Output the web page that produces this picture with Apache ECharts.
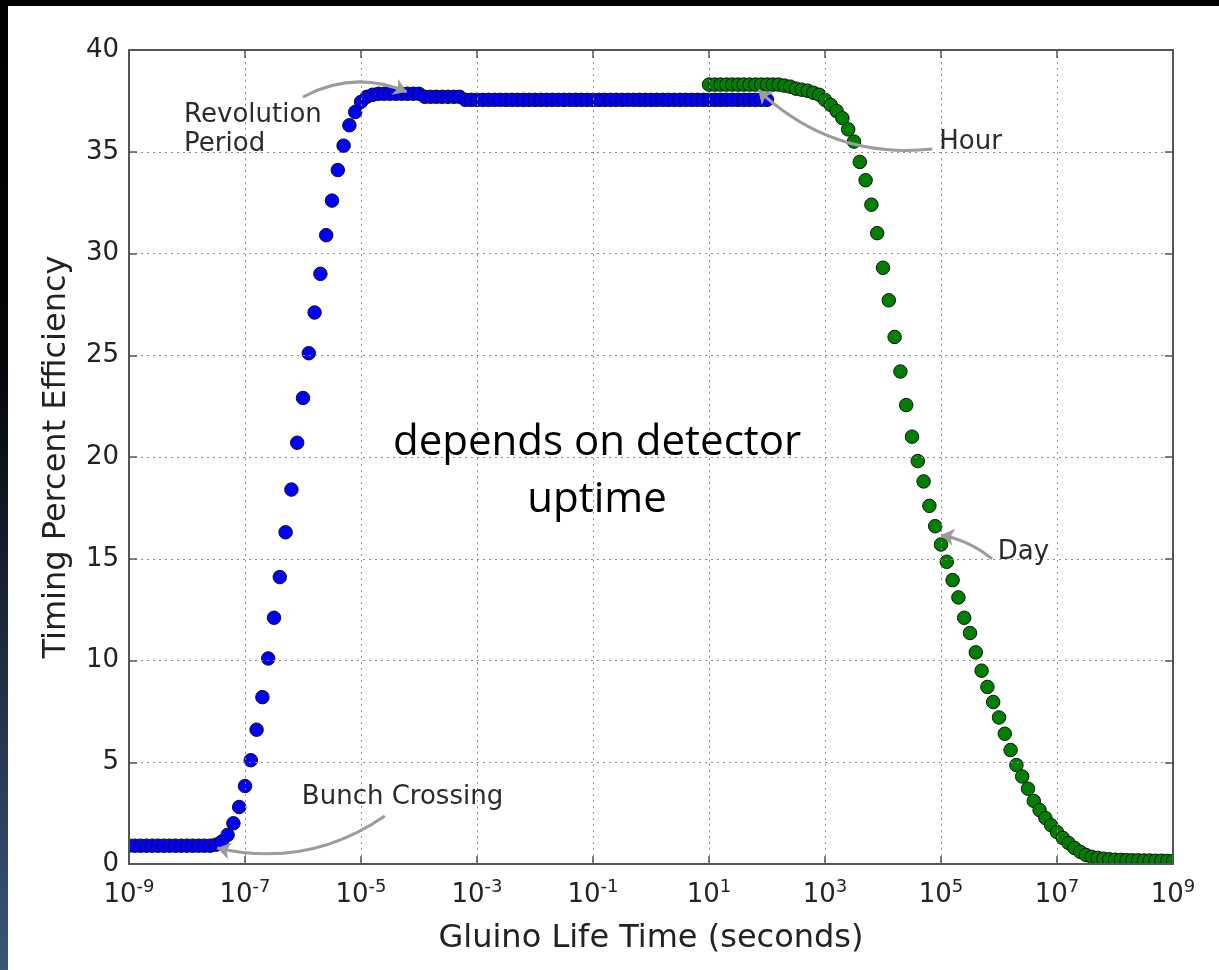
<!DOCTYPE html>
<html>
<head>
<meta charset="utf-8">
<title>Timing Percent Efficiency vs Gluino Life Time</title>
<script src="https://cdn.jsdelivr.net/npm/echarts@6/dist/echarts.min.js"></script>
<style>
  html, body { margin: 0; padding: 0; background: #fff; }
  #topband { position: absolute; left: 0; top: 0; width: 1219px; height: 6px; background: #000; }
  #sidebar { position: absolute; left: 0; top: 0; width: 8px; height: 970px;
             background: linear-gradient(to bottom, #000 0%, #04060a 38%, #3c5578 100%); }
  #chart { position: absolute; left: 0; top: 0; width: 1219px; height: 970px; }
</style>
</head>
<body>
<div id="topband"></div>
<div id="sidebar"></div>
<div id="chart"></div>
<script>
// Lifetimes are sampled evenly in log10(seconds), one point every 0.1 decade.
const expStep = 0.1;

// Short-lifetime scan: 10^-9 s ... 10^2 s (bunch crossing / revolution period limited)
const shortScanStartExp = -9.0;
const shortScanEff = [
  0.9, 0.9, 0.9, 0.9, 0.9, 0.9, 0.9, 0.9, 0.9, 0.9, 0.9, 0.9, 0.9, 0.9, 0.9,
  0.95, 1.1,
  1.43, 2.0, 2.8, 3.83, 5.1, 6.6, 8.2, 10.1, 12.1, 14.1, 16.3, 18.4, 20.7,
  22.9, 25.1, 27.1, 29.0, 30.9, 32.6, 34.1, 35.3, 36.3, 36.95, 37.45, 37.7, 37.8,
  37.85, 37.85, 37.85, 37.85, 37.85, 37.85, 37.85, 37.85,
  37.7, 37.7, 37.7, 37.7, 37.7, 37.7, 37.7,
  37.55, 37.55, 37.55, 37.55, 37.55, 37.55, 37.55, 37.55, 37.55, 37.55,
  37.55, 37.55, 37.55, 37.55, 37.55, 37.55, 37.55, 37.55, 37.55, 37.55,
  37.55, 37.55, 37.55, 37.55, 37.55, 37.55, 37.55, 37.55, 37.55, 37.55,
  37.55, 37.55, 37.55, 37.55, 37.55, 37.55, 37.55, 37.55, 37.55, 37.55,
  37.55, 37.55, 37.55, 37.55, 37.55, 37.55, 37.55, 37.55, 37.55, 37.55,
  37.55, 37.55, 37.55
];

// Long-lifetime scan: 10^1 s ... 10^9 s (detector uptime limited)
const longScanStartExp = 1.0;
const longScanEff = [
  38.3, 38.3, 38.3, 38.3, 38.3, 38.3, 38.3, 38.3, 38.3, 38.3, 38.3, 38.3, 38.3,
  38.25, 38.2, 38.1, 38.05, 38.0, 37.9, 37.8,
  37.55, 37.3, 37.0, 36.65, 36.1, 35.5, 34.5, 33.6, 32.4, 31.0,
  29.3, 27.7, 25.9, 24.2, 22.55, 21.0, 19.8, 18.8, 17.6, 16.6,
  15.7, 14.85, 13.95, 13.1, 12.1, 11.35, 10.4, 9.5, 8.7, 7.96,
  7.2, 6.4, 5.6, 4.86, 4.3, 3.7, 3.1, 2.65, 2.26, 1.9,
  1.57, 1.28, 1.03, 0.79, 0.6, 0.44, 0.35, 0.3, 0.26, 0.23,
  0.21, 0.2, 0.19, 0.18, 0.18, 0.17, 0.17, 0.16, 0.16, 0.15, 0.15
];

// Axis ticks
const xTickExponents = [-9, -7, -5, -3, -1, 1, 3, 5, 7, 9];
const yTickValues = [0, 5, 10, 15, 20, 25, 30, 35, 40];

const pow10 = e => Math.pow(10, e);

function toPoints(startExp, values) {
  return values.map((v, i) => [pow10(+(startExp + i * expStep).toFixed(1)), v]);
}

// Callouts: text anchors and curved arrows, in data coordinates (log10 seconds, percent)
const callouts = [
  { text: 'Revolution\nPeriod', at: [-8.05, 36.1] },
  { text: 'Bunch Crossing', at: [-6.02, 3.3] },
  { text: 'Hour', at: [4.97, 35.45] },
  { text: 'Day', at: [5.98, 15.3] }
];
const arrows = [
  { from: [-6.0, 37.69], to: [-4.21, 37.94], curve: 0.24 },
  { from: [4.85, 35.13], to: [1.85, 38.03], curve: 0.23 },
  { from: [5.88, 14.99], to: [5.0, 16.17], curve: -0.13 },
  { from: [-4.59, 2.36], to: [-7.48, 0.79], curve: 0.22 }
];
const centerNote = { text: 'depends on detector\nuptime', at: [-0.93, 19.3] };

const axisGray = '#555';
const gridStyle = { color: '#8e8e8e', type: [2, 4], width: 1 };
const textGray = '#222';
const markerRadius = 6.75;

// Circle markers, clipped to the plotting area like the axes frame
function markerSeries(name, points, fill, z) {
  return {
    name, type: 'custom', coordinateSystem: 'cartesian2d', clip: true, z,
    encode: { x: 0, y: 1 },
    data: points,
    renderItem: (params, api) => {
      const p = api.coord([api.value(0), api.value(1)]);
      return {
        type: 'circle',
        shape: { cx: p[0], cy: p[1], r: markerRadius },
        style: { fill, stroke: '#111', lineWidth: 1 }
      };
    }
  };
}

const chart = echarts.init(document.getElementById('chart'));

const frameAxis = {
  axisLine: { show: true, onZero: false, lineStyle: { color: axisGray, width: 2 } },
  axisTick: { show: true, inside: true, length: 8, lineStyle: { color: axisGray, width: 1.5 } }
};

const option = {
  animation: false,
  textStyle: { fontFamily: 'DejaVu Sans' },
  grid: { left: 129, right: 46, top: 50, bottom: 106, outerBoundsMode: 'none' },
  xAxis: [
    Object.assign({
      type: 'log', logBase: 10, min: pow10(-9), max: pow10(9), interval: 2,
      position: 'bottom', z: 10,
      name: 'Gluino Life Time (seconds)',
      nameLocation: 'middle', nameGap: 59,
      nameTextStyle: { fontSize: 32, color: textGray, fontFamily: 'DejaVu Sans' },
      minorTick: { show: false },
      axisLabel: {
        margin: 14,
        formatter: v => {
          const e = Math.round(Math.log10(v));
          return xTickExponents.includes(e) ? '{b|10}{s|' + e + '}' : '';
        },
        rich: {
          b: { fontSize: 26, color: textGray, fontFamily: 'DejaVu Sans', lineHeight: 30, verticalAlign: 'bottom' },
          s: { fontSize: 18, color: textGray, fontFamily: 'DejaVu Sans', lineHeight: 14, verticalAlign: 'top' }
        }
      },
      splitLine: { show: true, lineStyle: gridStyle }
    }, frameAxis),
    Object.assign({
      type: 'log', logBase: 10, min: pow10(-9), max: pow10(9), interval: 2,
      position: 'top', z: 10,
      axisLabel: { show: false },
      splitLine: { show: false }
    }, frameAxis)
  ],
  yAxis: [
    Object.assign({
      type: 'value', min: yTickValues[0], max: yTickValues[yTickValues.length - 1], interval: 5,
      position: 'left', z: 10,
      name: 'Timing Percent Efficiency',
      nameLocation: 'middle', nameGap: 56, nameRotate: 90,
      nameTextStyle: { fontSize: 32, color: textGray, fontFamily: 'DejaVu Sans' },
      axisLabel: { margin: 10, fontSize: 26, color: textGray, fontFamily: 'DejaVu Sans' },
      splitLine: { show: true, lineStyle: gridStyle }
    }, frameAxis),
    Object.assign({
      type: 'value', min: yTickValues[0], max: yTickValues[yTickValues.length - 1], interval: 5,
      position: 'right', z: 10,
      axisLabel: { show: false },
      splitLine: { show: false }
    }, frameAxis)
  ],
  series: [
    markerSeries('short lifetime scan', toPoints(shortScanStartExp, shortScanEff), '#0000ff', 3),
    markerSeries('long lifetime scan', toPoints(longScanStartExp, longScanEff), '#008000', 4),
    {
      name: 'callout arrows', type: 'lines', coordinateSystem: 'cartesian2d',
      xAxisIndex: 0, yAxisIndex: 0, silent: true,
      symbol: ['none', 'arrow'], symbolSize: 13,
      lineStyle: { color: '#9c9c9c', width: 3, opacity: 1 },
      data: arrows.map(a => ({
        coords: [[pow10(a.from[0]), a.from[1]], [pow10(a.to[0]), a.to[1]]],
        lineStyle: { curveness: a.curve }
      })),
      z: 11
    }
  ]
};

chart.setOption(option);

// Text callouts, anchored through the chart's own coordinate conversion
const toPx = (e, v) => chart.convertToPixel({ gridIndex: 0 }, [pow10(e), v]);
const graphics = callouts.map(c => {
  const p = toPx(c.at[0], c.at[1]);
  return {
    type: 'text', x: p[0], y: p[1], z: 20, silent: true,
    style: {
      text: c.text, fill: '#2b2b2b', fontSize: 26, lineHeight: 29,
      fontFamily: 'DejaVu Sans', align: 'left', verticalAlign: 'middle'
    }
  };
});
const cp = toPx(centerNote.at[0], centerNote.at[1]);
graphics.push({
  type: 'text', x: cp[0], y: cp[1], z: 20, silent: true,
  style: {
    text: centerNote.text, fill: '#000', fontSize: 42, lineHeight: 57,
    fontFamily: 'Open Sans', align: 'center', verticalAlign: 'middle'
  }
});
chart.setOption({ graphic: graphics });
</script>
</body>
</html>
